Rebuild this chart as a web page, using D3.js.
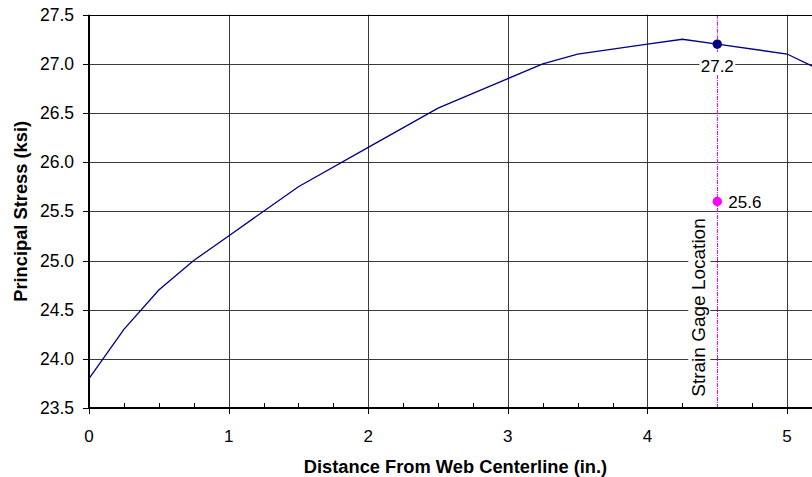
<!DOCTYPE html>
<html>
<head>
<meta charset="utf-8">
<script src="https://cdn.jsdelivr.net/npm/d3@7"></script>
<style>
  html, body { margin: 0; padding: 0; background: #fff; overflow: hidden; }
  svg { display: block; font-family: "Liberation Sans", Arial, sans-serif; }
</style>
</head>
<body>
<svg id="chart" width="812" height="477"></svg>
<script>
// ---- data ----
const distance = [0, 0.25, 0.5, 0.75, 1, 1.5, 2, 2.5, 3, 3.25, 3.5, 4, 4.25, 4.5, 5, 5.25];
const stress   = [23.8, 24.3, 24.7, 25.0, 25.25, 25.75, 26.15, 26.55, 26.85, 27.0, 27.1, 27.2, 27.25, 27.2, 27.1, 26.93];
const gageX = 4.5;
const fePoint = [4.5, 27.2];
const gagePoint = [4.5, 25.6];
const yTicks = [23.5, 24.0, 24.5, 25.0, 25.5, 26.0, 26.5, 27.0, 27.5];
const xTicks = [0, 1, 2, 3, 4, 5];
const xMinorTicks = [0.25, 0.5, 0.75, 1.25, 1.5, 1.75, 2.25, 2.5, 2.75, 3.25, 3.5, 3.75, 4.25, 4.75, 5.25];

(function () {
const svg = d3.select("#chart");
const pL = 89, pT = 14.7, pB = 408, pR = 822;

const x = d3.scaleLinear().domain([0, 5.25]).range([pL, pR]);
const y = d3.scaleLinear().domain([23.5, 27.5]).range([pB, pT]);

const gridColor = "#3a3a3a";

// horizontal gridlines
svg.append("g").selectAll("line").data(yTicks.slice(1)).join("line")
  .attr("x1", pL).attr("x2", pR)
  .attr("y1", d => Math.round(y(d)) + 0.5).attr("y2", d => Math.round(y(d)) + 0.5)
  .attr("stroke", gridColor).attr("stroke-width", 1);

// vertical gridlines
svg.append("g").selectAll("line").data(xTicks.slice(1)).join("line")
  .attr("x1", d => Math.round(x(d)) + 0.5).attr("x2", d => Math.round(x(d)) + 0.5)
  .attr("y1", pT).attr("y2", pB)
  .attr("stroke", gridColor).attr("stroke-width", 1);

// white boxes behind labels (cover gridlines)
const xg = x(gageX);
svg.append("rect").attr("x", xg - 29).attr("y", 214).attr("width", 22).attr("height", 188).attr("fill", "#fff");
svg.append("rect").attr("x", xg - 18).attr("y", 52).attr("width", 36).attr("height", 23).attr("fill", "#fff");

// strain gage vertical line
const xl = Math.round(xg) + 0.5;
svg.append("line")
  .attr("x1", xl).attr("x2", xl).attr("y1", pT).attr("y2", 52)
  .attr("stroke", "#ff00ff").attr("stroke-width", 1).attr("stroke-dasharray", "4,1,1,1");
svg.append("line")
  .attr("x1", xl).attr("x2", xl).attr("y1", 75).attr("y2", pB)
  .attr("stroke", "#ff00ff").attr("stroke-width", 1).attr("stroke-dasharray", "4,1,1,1");

// strain gage label
svg.append("text")
  .attr("transform", `translate(${xg - 12.5},${307.5}) rotate(-90)`)
  .attr("text-anchor", "middle")
  .attr("font-size", 19).attr("fill", "#000")
  .text("Strain Gage Location");

// axes lines
svg.append("line").attr("x1", pL).attr("x2", pR).attr("y1", pB).attr("y2", pB)
  .attr("stroke", "#000").attr("stroke-width", 2);
svg.append("line").attr("x1", pL).attr("x2", pL).attr("y1", pT).attr("y2", pB + 1)
  .attr("stroke", "#000").attr("stroke-width", 2);
// top border
svg.append("line").attr("x1", pL).attr("x2", pR).attr("y1", Math.round(pT) + 0.5).attr("y2", Math.round(pT) + 0.5)
  .attr("stroke", "#000").attr("stroke-width", 1);

// x major ticks (down) and minor ticks (up)
svg.append("g").selectAll("line").data(xTicks).join("line")
  .attr("x1", d => Math.round(x(d)) + 0.5).attr("x2", d => Math.round(x(d)) + 0.5)
  .attr("y1", pB).attr("y2", pB + 6)
  .attr("stroke", "#000").attr("stroke-width", 1);
svg.append("g").selectAll("line").data(xMinorTicks).join("line")
  .attr("x1", d => Math.round(x(d)) + 0.5).attr("x2", d => Math.round(x(d)) + 0.5)
  .attr("y1", pB).attr("y2", pB - 5)
  .attr("stroke", "#000").attr("stroke-width", 1);

// y major ticks
svg.append("g").selectAll("line").data(yTicks).join("line")
  .attr("x1", pL - 6).attr("x2", pL)
  .attr("y1", d => Math.round(y(d)) + 0.5).attr("y2", d => Math.round(y(d)) + 0.5)
  .attr("stroke", "#000").attr("stroke-width", 1);

// tick labels
svg.append("g").selectAll("text").data(yTicks).join("text")
  .attr("x", 74).attr("y", d => y(d) + 6)
  .attr("text-anchor", "end").attr("font-size", 17.5).attr("fill", "#000")
  .text(d => d.toFixed(1));
svg.append("g").selectAll("text").data(xTicks).join("text")
  .attr("x", d => x(d)).attr("y", 441.5)
  .attr("text-anchor", "middle").attr("font-size", 17).attr("fill", "#000")
  .text(d => d);

// axis titles
svg.append("text")
  .attr("x", (pL + pR) / 2).attr("y", 473)
  .attr("text-anchor", "middle").attr("font-size", 18.3).attr("font-weight", "bold")
  .text("Distance From Web Centerline (in.)");
svg.append("text")
  .attr("transform", `translate(27,${(pT + pB) / 2}) rotate(-90)`)
  .attr("text-anchor", "middle").attr("font-size", 18.3).attr("font-weight", "bold")
  .text("Principal Stress (ksi)");

// data line
const pts = distance.map((d, i) => [d, stress[i]]);
svg.append("path").datum(pts)
  .attr("fill", "none").attr("stroke", "#000080").attr("stroke-width", 1.3)
  .attr("d", d3.line().x(d => x(d[0])).y(d => y(d[1])));

// markers
svg.append("circle").attr("cx", x(fePoint[0])).attr("cy", y(fePoint[1])).attr("r", 4.7).attr("fill", "#000080");
svg.append("circle").attr("cx", x(gagePoint[0])).attr("cy", y(gagePoint[1])).attr("r", 4.7).attr("fill", "#ff00ff");

// data labels
svg.append("text").attr("x", x(fePoint[0])).attr("y", y(fePoint[1]) + 28)
  .attr("text-anchor", "middle").attr("font-size", 17).text(fePoint[1].toFixed(1));
svg.append("text").attr("x", x(gagePoint[0]) + 11).attr("y", y(gagePoint[1]) + 6)
  .attr("text-anchor", "start").attr("font-size", 17).text(gagePoint[1].toFixed(1));
})();
</script>
</body>
</html>
